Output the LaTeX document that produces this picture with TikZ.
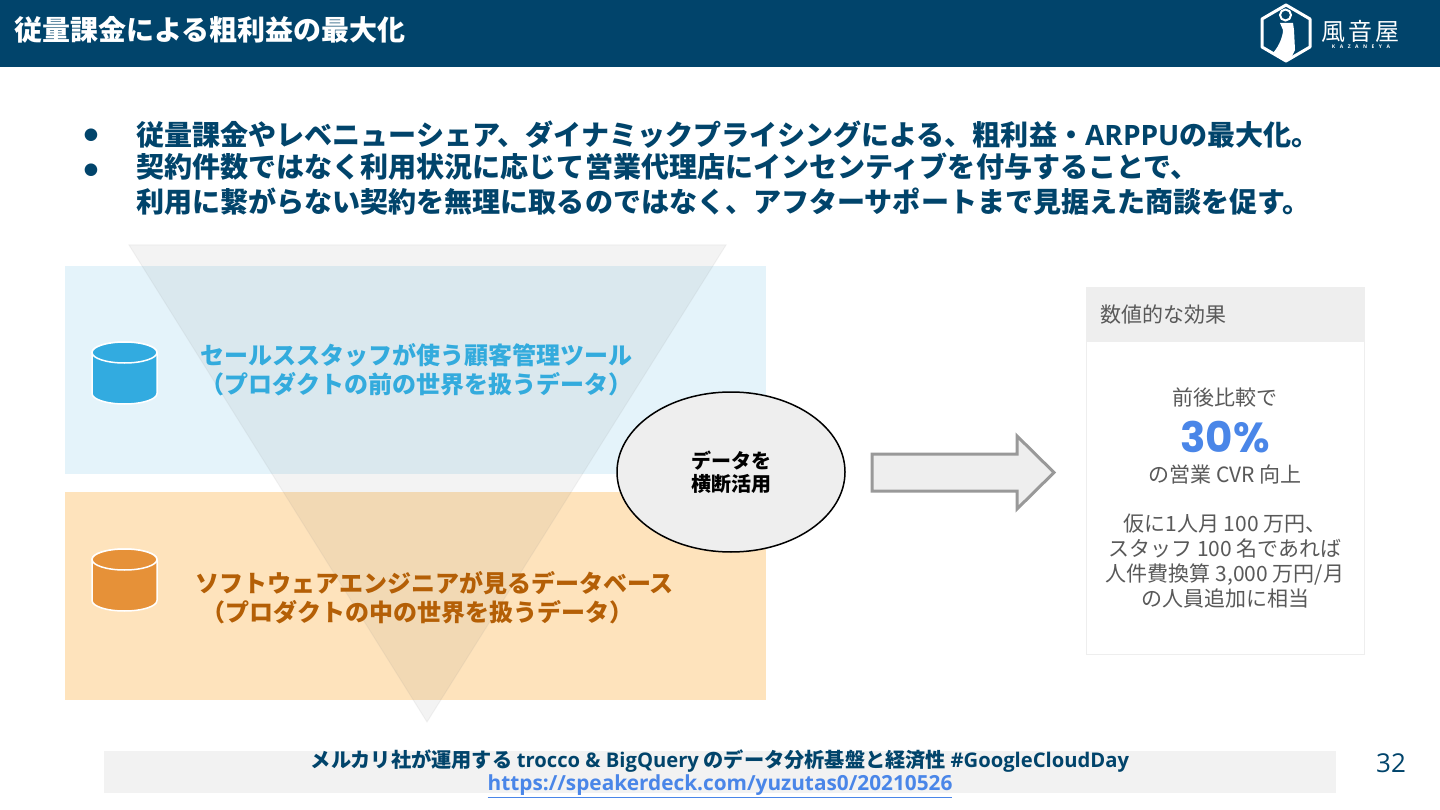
\documentclass[tikz,border=0pt]{standalone}
\usepackage{fontspec}
\usetikzlibrary{shapes.geometric}
\setmainfont{Noto Sans CJK JP}
\newfontfamily\latn{Open Sans}
\newfontfamily\popf{Poppins}
\newfontfamily\djvf{DejaVu Sans}
\newcommand{\fsz}[2]{\fontsize{#1pt}{#2pt}\selectfont}
\definecolor{navy}{HTML}{01446B}
\definecolor{bandblue}{HTML}{E4F3FA}
\definecolor{bandorange}{HTML}{FEE3BC}
\definecolor{txtblue}{HTML}{33ABDD}
\definecolor{txtorange}{HTML}{B45F06}
\definecolor{cylblue}{HTML}{32ABE0}
\definecolor{cylorange}{HTML}{E69138}
\definecolor{panelgray}{HTML}{EEEEEE}
\definecolor{paneltxt}{HTML}{595959}
\definecolor{linkblue}{HTML}{4A86E8}
\tikzset{
  x=1pt,y=-1pt,
  lefttext/.style={anchor=west,inner sep=0pt,text=navy},
  bullettext/.style={lefttext,font=\fsz{28.05}{33}\bfseries},
  bulletdot/.style={inner sep=0pt,text=navy,font=\fsz{16.5}{20}\djvf},
  bandtext/.style={inner sep=0pt,align=center,font=\fsz{24}{29}\bfseries},
  paneltext/.style={inner sep=0pt,align=center,text=paneltxt,font=\fsz{21}{25}},
  cyl/.style={draw=white,line width=1.5pt,fill=#1},
}
\begin{document}
\begin{tikzpicture}
\useasboundingbox (0,0) rectangle (1440,810);
\fill[white] (0,0) rectangle (1440,810);
% header
\fill[navy] (0,0) rectangle (1440,67);
\node[lefttext,text=white,font=\fsz{28}{32}\bfseries] (title) at (14,30) {従量課金による粗利益の最大化};
% logo
\draw[white,line width=3pt,line join=round] (1286,5) -- (1310,19) -- (1310,47) -- (1286,61) -- (1262,47) -- (1262,19) -- cycle;
\draw[white,line width=2pt] (1285.5,15) circle (5.5);
\fill[white] (1280,23) -- (1293,23) -- (1294,30) -- (1295,50) -- (1290,60) -- (1285,60) -- (1273,53) .. controls (1280,45) and (1283,35) .. (1283,30) -- cycle;
\node[inner sep=0pt,text=white,font=\fsz{24}{28}] (logotext) at (1360,31) {風\hspace{3pt}音\hspace{3pt}屋};
\node[inner sep=0pt,text=white,font=\fsz{5}{6}\latn\bfseries] (logosub) at (1361,46.5) {K\hspace{4.5pt}A\hspace{4.5pt}Z\hspace{4.5pt}A\hspace{4.5pt}N\hspace{4.5pt}E\hspace{4.5pt}Y\hspace{4.5pt}A};
% bullets
\node[bulletdot] (b1) at (91,135) {●};
\node[bulletdot] (b2) at (91,170) {●};
\node[bullettext] (l1) at (136,135) {従量課金やレベニューシェア、ダイナミックプライシングによる、粗利益・{\latn ARPPU}の最大化。};
\node[bullettext] (l2) at (136,167) {契約件数ではなく利用状況に応じて営業代理店にインセンティブを付与することで、};
\node[bullettext] (l3) at (136,202) {利用に繋がらない契約を無理に取るのではなく、アフターサポートまで見据えた商談を促す。};
% bands
\fill[bandblue] (65,266) rectangle (766,474);
\fill[bandorange] (65,492) rectangle (766,700);
% funnel
\filldraw[fill=black!76,fill opacity=0.06,draw=black!40,draw opacity=0.1,line width=1pt] (129,245) -- (726,245) -- (427,722) -- cycle;
% cylinders
\filldraw[cyl=cylblue] (92,352.5) -- (92,393.5) arc[start angle=180,end angle=360,x radius=32.5pt,y radius=10.5pt] -- (157,352.5) arc[start angle=0,end angle=180,x radius=32.5pt,y radius=10.5pt] -- cycle;
\filldraw[cyl=cylblue] (124.5,352.5) ellipse[x radius=32.5pt,y radius=10.5pt];
\filldraw[cyl=cylorange] (92,559.5) -- (92,600.5) arc[start angle=180,end angle=360,x radius=32.5pt,y radius=10.5pt] -- (157,559.5) arc[start angle=0,end angle=180,x radius=32.5pt,y radius=10.5pt] -- cycle;
\filldraw[cyl=cylorange] (124.5,559.5) ellipse[x radius=32.5pt,y radius=10.5pt];
% band labels
\node[bandtext,text=txtblue] (blue) at (416,370) {セールススタッフが使う顧客管理ツール\\（プロダクトの前の世界を扱うデータ）};
\node[bandtext,text=txtorange] (orange) at (434.5,598) {ソフトウェアエンジニアが見るデータベース\\（プロダクトの中の世界を扱うデータ）\hspace*{34pt}};
% ellipse
\node[ellipse,draw=black,line width=1.5pt,fill=panelgray,minimum width=228pt,minimum height=160pt,inner sep=0pt,align=center,text=black,font=\fsz{20}{23}\bfseries] (cross) at (731,472) {\raisebox{-2pt}{データを}\\\raisebox{-2pt}{横断活用}};
% arrow
\filldraw[fill=panelgray,draw=black!40,line width=3pt,line join=miter] (872,454) -- (1017,454) -- (1017,436) -- (1054,472.5) -- (1017,509) -- (1017,491) -- (872,491) -- cycle;
% panel
\node[draw=panelgray,line width=1pt,fill=white,minimum width=278pt,minimum height=366pt,inner sep=0pt] (panel) at (1225.5,471) {};
\fill[panelgray] (panel.north west) rectangle (1364,342);
\node[lefttext,text=paneltxt,font=\fsz{21}{25}] (phead) at (1100,315) {数値的な効果};
\node[paneltext] (p1) at (1225,397) {前後比較で};
\node[inner sep=0pt,text=linkblue,font=\fsz{42}{48}\popf\bfseries] (p2) at (1225,437) {30\%};
\node[paneltext] (p3) at (1225,475) {の営業 CVR 向上};
\node[paneltext] (p4) at (1225,561.5) {仮に1人月 100 万円、\\スタッフ 100 名であれば\\人件費換算 3,000 万円/月\\の人員追加に相当};
% footer
\fill[black!5] (104,751) rectangle (1336,793);
\node[inner sep=0pt,text=navy,font=\fsz{20.2}{24}\bfseries] (ref) at (720,761) {メルカリ社が運用する {\latn trocco \& BigQuery} のデータ分析基盤と経済性 {\latn \#GoogleCloudDay}};
\node[inner sep=0pt,text=linkblue,font=\fsz{20.8}{24}\latn\bfseries] (link) at (720,786) {\underline{https://speakerdeck.com/yuzutas0/20210526}};
\node[inner sep=0pt,text=navy,font=\fsz{26}{30}\latn] (page) at (1391,763) {32};
\end{tikzpicture}
\end{document}
